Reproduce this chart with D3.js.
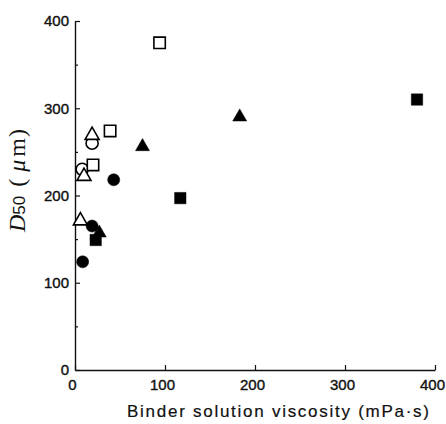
<!DOCTYPE html>
<html><head><meta charset="utf-8">
<script src="https://cdn.jsdelivr.net/npm/d3@7"></script>
<style>body{margin:0;background:#fff}</style>
</head><body>
<script>
const xTicks = [0,100,200,300,400];
const yTicks = [0,100,200,300,400];
const yMinor = [50,150,250,350];
const openCircle = [[8,230],[19,260]];
const openTriangle = [[6,171],[10,222],[19,269]];
const openSquare = [[20,235],[39,274],[94,375]];
const filledCircle = [[8.5,124],[19,165],[43,218]];
const filledTriangle = [[27,157],[75,256],[183,290]];
const filledSquare = [[23,149],[117,197],[380,310]];

const W=446,H=424;
const svg=d3.select("body").append("svg").attr("width",W).attr("height",H);
const x=d3.scaleLinear().domain([0,400]).range([75,435]);
const y=d3.scaleLinear().domain([0,400]).range([370,21]);

const xAx=svg.append("g").attr("transform","translate(0,370)")
  .call(d3.axisBottom(x).tickValues(xTicks).tickSizeInner(-5).tickSizeOuter(0).tickPadding(8));
const yAx=svg.append("g").attr("transform","translate(75,0)")
  .call(d3.axisLeft(y).tickValues(yTicks).tickSizeInner(-5).tickSizeOuter(0).tickPadding(6));
svg.append("g").attr("transform","translate(75,0)")
  .call(d3.axisLeft(y).tickValues(yMinor).tickSize(-3).tickFormat(""))
  .select(".domain").remove();
svg.selectAll(".domain").attr("stroke","#111").attr("stroke-width",1.4);
svg.selectAll(".tick line").attr("stroke","#111").attr("stroke-width",1.2);
svg.selectAll(".tick text").attr("font-family","Liberation Sans, Arial, sans-serif")
  .attr("font-size",15).attr("fill","#111").attr("stroke","#111").attr("stroke-width",0.4);
xAx.selectAll(".tick text").attr("dy","0.78em").attr("dx",-3);

const sq=d3.symbol().type(d3.symbolSquare).size(130);
const tri=d3.symbol().type(d3.symbolTriangle).size(85);
const cir=d3.symbol().type(d3.symbolCircle).size(115);
function draw(data,gen,filled){
  svg.append("g").selectAll("path").data(data).join("path")
    .attr("d",gen)
    .attr("transform",d=>`translate(${x(d[0])},${y(d[1])})`)
    .attr("fill",filled?"#000":"#fff")
    .attr("stroke","#000").attr("stroke-width",filled?0.5:1.6);
}
draw(openCircle,cir,false);
draw(openTriangle,tri,false);
draw(openSquare,sq,false);
draw(filledCircle,cir,true);
draw(filledTriangle,tri,true);
draw(filledSquare,sq,true);

svg.append("text").attr("x",127).attr("y",417)
  .attr("font-family","Liberation Sans, Arial, sans-serif").attr("font-size",17)
  .attr("textLength",302).attr("lengthAdjust","spacing").attr("fill","#111")
  .attr("stroke","#111").attr("stroke-width",0.2)
  .text("Binder solution viscosity (mPa·s)");

const yl=svg.append("text").attr("transform","translate(25,232) rotate(-90)")
  .attr("font-family","Liberation Serif, Times New Roman, serif").attr("font-size",24).attr("fill","#111");
yl.append("tspan").attr("font-style","italic").text("D");
yl.append("tspan").attr("font-size",17).attr("dx",0).attr("font-family","Liberation Sans, Arial, sans-serif").text("50");
yl.append("tspan").attr("dx",9).text("(");
yl.append("tspan").attr("dx",7).attr("font-style","italic").text("μ");
yl.append("tspan").attr("dx",3).text("m");
yl.append("tspan").attr("dx",1).text(")");
</script>
</body></html>
